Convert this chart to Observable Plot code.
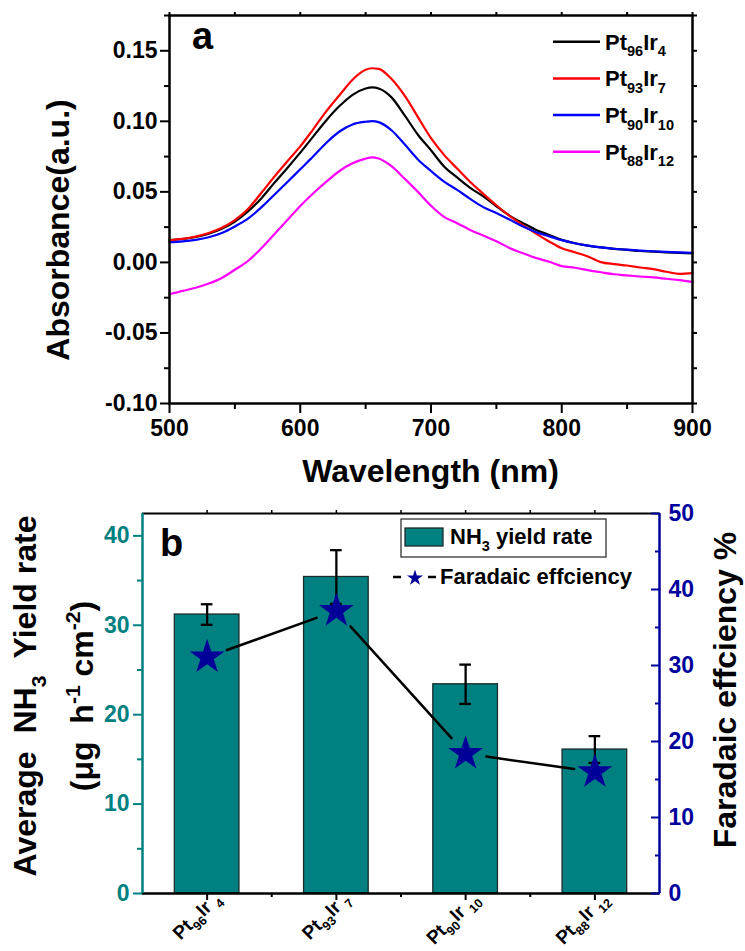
<!DOCTYPE html>
<html><head><meta charset="utf-8">
<script src="https://cdn.jsdelivr.net/npm/d3@7"></script>
<script src="https://cdn.jsdelivr.net/npm/@observablehq/plot@0.6"></script>
<style>
body{margin:0;background:#fff;}
#chart svg{display:block;}
</style></head><body><div id="chart"></div>
<script>
// ---------- Panel a data (UV-vis absorbance) ----------
const wavelengths = [500,510,520,530,540,550,560,570,580,590,600,610,620,630,640,650,655,660,670,680,690,700,710,720,730,740,750,760,770,780,790,800,810,820,830,840,850,860,870,880,890,900];
const absPt96Ir4 = [0.0158,0.0166,0.0180,0.0203,0.0238,0.0290,0.0362,0.0452,0.0562,0.0668,0.0778,0.0893,0.1008,0.1108,0.1188,0.1233,0.1241,0.1233,0.1168,0.1040,0.0905,0.0795,0.0680,0.0602,0.0528,0.0468,0.0398,0.0332,0.0280,0.0232,0.0196,0.0160,0.0136,0.0119,0.0106,0.0096,0.0089,0.0081,0.0076,0.0071,0.0067,0.0064];
const absPt93Ir7 = [0.0158,0.0167,0.0183,0.0208,0.0245,0.0300,0.0378,0.0490,0.0605,0.0715,0.0822,0.0945,0.1072,0.1185,0.1295,0.1365,0.1376,0.1372,0.1298,0.1180,0.1030,0.0880,0.0762,0.0665,0.0570,0.0486,0.0405,0.0330,0.0266,0.0206,0.0150,0.0100,0.0072,0.0042,0.0002,-0.0012,-0.0022,-0.0036,-0.0048,-0.0066,-0.0081,-0.0076];
const absPt90Ir10 = [0.0143,0.0149,0.0160,0.0178,0.0208,0.0255,0.0310,0.0388,0.0478,0.0568,0.0660,0.0752,0.0848,0.0928,0.0978,0.0997,0.1002,0.0994,0.0935,0.0835,0.0730,0.0648,0.0573,0.0514,0.0450,0.0392,0.0350,0.0304,0.0256,0.0216,0.0186,0.0158,0.0136,0.0119,0.0106,0.0097,0.0090,0.0084,0.0079,0.0075,0.0071,0.0068];
const absPt88Ir12 = [-0.0226,-0.0202,-0.0180,-0.0150,-0.0110,-0.0052,0.0010,0.0098,0.0198,0.0298,0.0400,0.0490,0.0572,0.0648,0.0702,0.0736,0.0745,0.0736,0.0680,0.0592,0.0500,0.0402,0.0323,0.0278,0.0230,0.0190,0.0150,0.0103,0.0066,0.0032,0.0006,-0.0026,-0.0038,-0.0055,-0.0070,-0.0084,-0.0092,-0.0100,-0.0106,-0.0116,-0.0126,-0.0138];
const seriesNames = ["Pt_{96}Ir_{4}", "Pt_{93}Ir_{7}", "Pt_{90}Ir_{10}", "Pt_{88}Ir_{12}"];
const seriesColors = ["#000000", "#ff0000", "#0000ff", "#ff00ff"];
const seriesValues = [absPt96Ir4, absPt93Ir7, absPt90Ir10, absPt88Ir12];
const xTicksA = [500, 600, 700, 800, 900];
const xMinorA = [550, 650, 750, 850];
const yTicksA = [-0.10, -0.05, 0.00, 0.05, 0.10, 0.15];
const yMinorA = [-0.075, -0.025, 0.025, 0.075, 0.125, 0.175];

// ---------- Panel b data ----------
const categories = ["Pt_{96}Ir _{4}", "Pt_{93}Ir _{7}", "Pt_{90}Ir _{10}", "Pt_{88}Ir _{12}"];
const yieldRate = [31.2, 35.4, 23.4, 16.1];
const yieldErr = [1.15, 3.0, 2.2, 1.5];
const faradaicEff = [31.1, 37.2, 18.4, 16.0];
const yTicksB = [0, 10, 20, 30, 40];
const yMinorB = [5, 15, 25, 35];
const feTicks = [0, 10, 20, 30, 40, 50];
const feMinor = [5, 15, 25, 35, 45];

const TEAL = "#008080", NAVY = "#00009c", FONT = "'Liberation Sans', Arial, Helvetica, sans-serif";
const baseStyle = {fontFamily: FONT, fontSize: "23px", fontWeight: "bold", background: "#fff", color: "#000", overflow: "visible"};

// rich text: _{..} subscript, ^{..} superscript
function rich(root) {
  root.querySelectorAll("text").forEach(t => {
    const s = t.textContent;
    if (!/[_^]\{/.test(s)) return;
    const fs = parseFloat(getComputedStyle(t).fontSize) || 22;
    t.textContent = "";
    const re = /([_^])\{([^}]*)\}/g;
    let last = 0, shift = 0, m;
    const add = (str, target, small) => {
      const ts = document.createElementNS("http://www.w3.org/2000/svg", "tspan");
      ts.textContent = str;
      const dy = target - shift;
      if (dy) ts.setAttribute("dy", dy);
      if (small) ts.setAttribute("font-size", (fs * 0.66).toFixed(1));
      shift = target;
      t.appendChild(ts);
    };
    while ((m = re.exec(s))) {
      if (m.index > last) add(s.slice(last, m.index), 0, false);
      add(m[2], m[1] === "_" ? fs * 0.3 : -fs * 0.42, true);
      last = re.lastIndex;
    }
    if (last < s.length) add(s.slice(last), 0, false);
  });
}

// ---------- Panel a ----------
const spec = seriesNames.flatMap((name, k) => wavelengths.map((w, i) => ({w, a: seriesValues[k][i], name})));
const plotA = Plot.plot({
  width: 745, height: 490,
  marginTop: 15, marginRight: 53, marginBottom: 87, marginLeft: 169,
  style: baseStyle,
  x: {domain: [500, 900], label: null},
  y: {domain: [-0.10, 0.175], label: null},
  color: {domain: seriesNames, range: seriesColors},
  marks: [
    Plot.axisY({ticks: yTicksA, anchor: "left", tickSize: 9, tickPadding: 3, tickFormat: d => d.toFixed(2), strokeWidth: 2, label: null}),
    Plot.axisY({ticks: yMinorA, anchor: "left", tickSize: 5, fill: "none", stroke: "black", strokeWidth: 2, label: null}),
    Plot.axisY({ticks: yTicksA.concat(yMinorA), anchor: "right", tickSize: 4, fill: "none", stroke: "black", strokeWidth: 2, label: null}),
    Plot.axisX({ticks: xTicksA, anchor: "bottom", tickSize: 10, tickPadding: 6, tickFormat: d => String(d), strokeWidth: 2, label: null}),
    Plot.axisX({ticks: xMinorA, anchor: "bottom", tickSize: 6, fill: "none", stroke: "black", strokeWidth: 2, label: null}),
    Plot.axisX({ticks: xTicksA.concat(xMinorA), anchor: "top", tickSize: 4, fill: "none", stroke: "black", strokeWidth: 2, label: null}),
    Plot.line(spec, {x: "w", y: "a", z: "name", stroke: "name", strokeWidth: 2.2, curve: "monotone-x"}),
    Plot.frame({stroke: "black", strokeWidth: 2.5})
  ]
});

// ---------- Panel b ----------
const K = 42.5 / 50; // FE % -> yield-axis units
const barData = categories.map((c, j) => ({i: j + 1, cat: c, rate: yieldRate[j], err: yieldErr[j], fe: faradaicEff[j]}));
const fePairs = d3.pairs(barData).map(([p, q]) => ({x1: p.i, y1: p.fe * K, x2: q.i, y2: q.fe * K}));
const plotB = Plot.plot({
  width: 745, height: 461,
  marginTop: 23, marginRight: 86, marginBottom: 58, marginLeft: 142,
  style: baseStyle,
  x: {domain: [0.5, 4.5], label: null},
  y: {domain: [0, 42.5], label: null},
  marks: [
    Plot.rectY(barData, {x1: d => d.i - 0.25, x2: d => d.i + 0.25, y1: 0, y2: "rate", fill: TEAL, stroke: "#1b2b2b", strokeWidth: 1.3}),
    Plot.link(barData, {x1: "i", x2: "i", y1: d => d.rate - d.err, y2: d => d.rate + d.err, stroke: "black", strokeWidth: 2.3}),
    Plot.ruleY(barData, {y: d => d.rate + d.err, x1: d => d.i - 0.045, x2: d => d.i + 0.045, stroke: "black", strokeWidth: 2.3}),
    Plot.ruleY(barData, {y: d => d.rate - d.err, x1: d => d.i - 0.045, x2: d => d.i + 0.045, stroke: "black", strokeWidth: 2.3}),
    Plot.arrow(fePairs, {x1: "x1", y1: "y1", x2: "x2", y2: "y2", headLength: 0, inset: 21, stroke: "black", strokeWidth: 2.5}),
    Plot.dot(barData, {x: "i", y: d => d.fe * K, symbol: "star", r: 11, fill: "#000099", stroke: "none"}),
    // frame edges
    Plot.ruleY([42.5], {stroke: "black", strokeWidth: 2}),
    Plot.ruleY([0], {stroke: "black", strokeWidth: 2.5}),
    Plot.ruleX([0.5], {stroke: TEAL, strokeWidth: 2.5}),
    Plot.ruleX([4.5], {stroke: NAVY, strokeWidth: 2.5}),
    // left axis (teal)
    Plot.axisY({ticks: yTicksB, anchor: "left", tickSize: 9, tickPadding: 4, color: TEAL, strokeWidth: 2, label: null}),
    Plot.axisY({ticks: yMinorB, anchor: "left", tickSize: 5, fill: "none", stroke: TEAL, strokeWidth: 2, label: null}),
    // right axis (navy), FE scale
    Plot.axisY({ticks: feTicks.map(v => v * K), anchor: "right", tickSize: 9, dx: -9, fill: "none", stroke: NAVY, strokeWidth: 2, label: null}),
    Plot.axisY({ticks: feMinor.map(v => v * K), anchor: "right", tickSize: 5, dx: -5, fill: "none", stroke: NAVY, strokeWidth: 2, label: null}),
    Plot.axisY({ticks: feTicks.map(v => v * K), anchor: "right", tickSize: 0, tickPadding: 9, tickFormat: v => String(Math.round(v / K)), fill: NAVY, label: null}),
    // bottom / top axes
    Plot.axisX({ticks: [1, 2, 3, 4], anchor: "bottom", tickSize: 7, fill: "none", stroke: "black", strokeWidth: 2, label: null}),
    Plot.axisX({ticks: [1.5, 2.5, 3.5], anchor: "bottom", tickSize: 4, fill: "none", stroke: "black", strokeWidth: 2, label: null}),
    Plot.axisX({ticks: [1, 1.5, 2, 2.5, 3, 3.5, 4], anchor: "top", tickSize: 4, fill: "none", stroke: "black", strokeWidth: 1.5, label: null}),
    // rotated category labels
    Plot.text(barData, {x: "i", text: "cat", frameAnchor: "bottom", rotate: -45, textAnchor: "end", lineAnchor: "middle", dx: 10, dy: 2, fontSize: 19, fill: "black"})
  ]
});

const chart = document.getElementById("chart");
chart.appendChild(plotA);
chart.appendChild(plotB);

function label(sel, x, y, size, txt, anchor) {
  return sel.append("text").attr("x", x).attr("y", y).attr("font-size", size).attr("font-weight", "bold")
    .attr("fill", "black").attr("text-anchor", anchor || "start").style("white-space", "pre").text(txt);
}
function vlabel(sel, x, y, size, txt) {
  return sel.append("text").attr("transform", `translate(${x},${y}) rotate(-90)`).attr("text-anchor", "middle")
    .attr("font-size", size).attr("font-weight", "bold").attr("fill", "black").style("white-space", "pre").text(txt);
}

// ---------- Annotations panel a ----------
const sa = d3.select(plotA);
label(sa, 192, 49, 38, "a");
vlabel(sa, 69, 230, 32, "Absorbance(a.u.)");
label(sa, 430.5, 482, 32, "Wavelength (nm)", "middle");
const legA = sa.append("g");
seriesNames.forEach((name, k) => {
  const y = 41.7 + k * 36.7;
  legA.append("line").attr("x1", 553).attr("x2", 600).attr("y1", y).attr("y2", y)
    .attr("stroke", seriesColors[k]).attr("stroke-width", 2.5);
  label(legA, 605, y + 8, 22, name);
});

// ---------- Annotations panel b ----------
const sb = d3.select(plotB);
label(sb, 160, 66, 38, "b");
vlabel(sb, 36, 206, 32, "Average  NH_{3}  Yield rate");
vlabel(sb, 93, 206, 32, "(μg  h^{-1} cm^{-2})");
vlabel(sb, 736, 200, 32, "Faradaic effciency %");
const legB = sb.append("g");
legB.append("rect").attr("x", 401).attr("y", 29).attr("width", 205).attr("height", 38).attr("fill", "white").attr("stroke", "#333").attr("stroke-width", 1.3);
legB.append("rect").attr("x", 405).attr("y", 38).attr("width", 38).attr("height", 18).attr("fill", TEAL).attr("stroke", "#1b2b2b").attr("stroke-width", 1.3);
label(legB, 450, 54, 22, "NH_{3} yield rate");
legB.append("line").attr("x1", 393).attr("x2", 401).attr("y1", 87).attr("y2", 87).attr("stroke", "black").attr("stroke-width", 2.5);
legB.append("line").attr("x1", 428).attr("x2", 436).attr("y1", 87).attr("y2", 87).attr("stroke", "black").attr("stroke-width", 2.5);
legB.append("path").attr("transform", "translate(415,88)").attr("d", d3.symbol(d3.symbolStar, 80)()).attr("fill", "#000099");
label(legB, 440, 94, 22, "Faradaic effciency");

rich(plotA);
rich(plotB);
</script></body></html>
